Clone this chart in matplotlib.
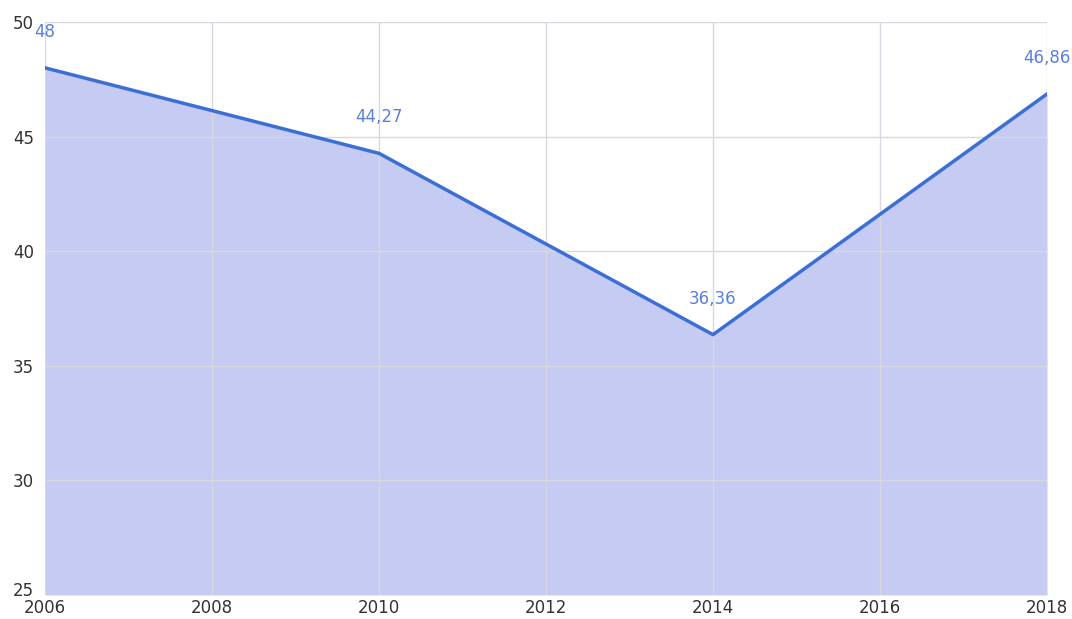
import matplotlib.pyplot as plt
import matplotlib.transforms as mtransforms

# dados
anos = [2006, 2010, 2014, 2018]
valores = [48, 44.27, 36.36, 46.86]
rotulos = ["48", "44,27", "36,36", "46,86"]
xticks = [2006, 2008, 2010, 2012, 2014, 2016, 2018]
yticks = [25, 30, 35, 40, 45, 50]

fig = plt.figure(figsize=(10.72, 6.19), dpi=100)
ax = fig.add_axes([45 / 1072, 1 - 595 / 619, (1047 - 45) / 1072, (595 - 22) / 619])

ax.fill_between(anos, valores, 25, color="#c5cbf2", linewidth=0, zorder=1)
ax.plot(anos, valores, color="#3b6fd6", linewidth=2.5, zorder=3)

for x, y, t in zip(anos, valores, rotulos):
    ax.annotate(t, (x, y), xytext=(0, 26), textcoords="offset points",
                ha="center", va="center", color="#5a80dd", fontsize=12)

ax.set_xlim(2006, 2018)
ax.set_ylim(25, 50)
ax.set_xticks(xticks)
ax.set_yticks(yticks)
ax.grid(True, color="#d8d8e0", linewidth=1, zorder=2)
ax.set_axisbelow(False)
for s in ax.spines.values():
    s.set_visible(False)
ax.tick_params(length=0, labelsize=12, labelcolor="#333333")
ax.tick_params(axis="x", pad=3)
ax.tick_params(axis="y", pad=8)

# sobe um pouco o "25" pra nao encostar no "2006"
lbl25 = ax.get_yticklabels()[0]
lbl25.set_transform(lbl25.get_transform() + mtransforms.ScaledTranslation(0, 4 / 72, fig.dpi_scale_trans))

fig.savefig("out.png", dpi=100)
